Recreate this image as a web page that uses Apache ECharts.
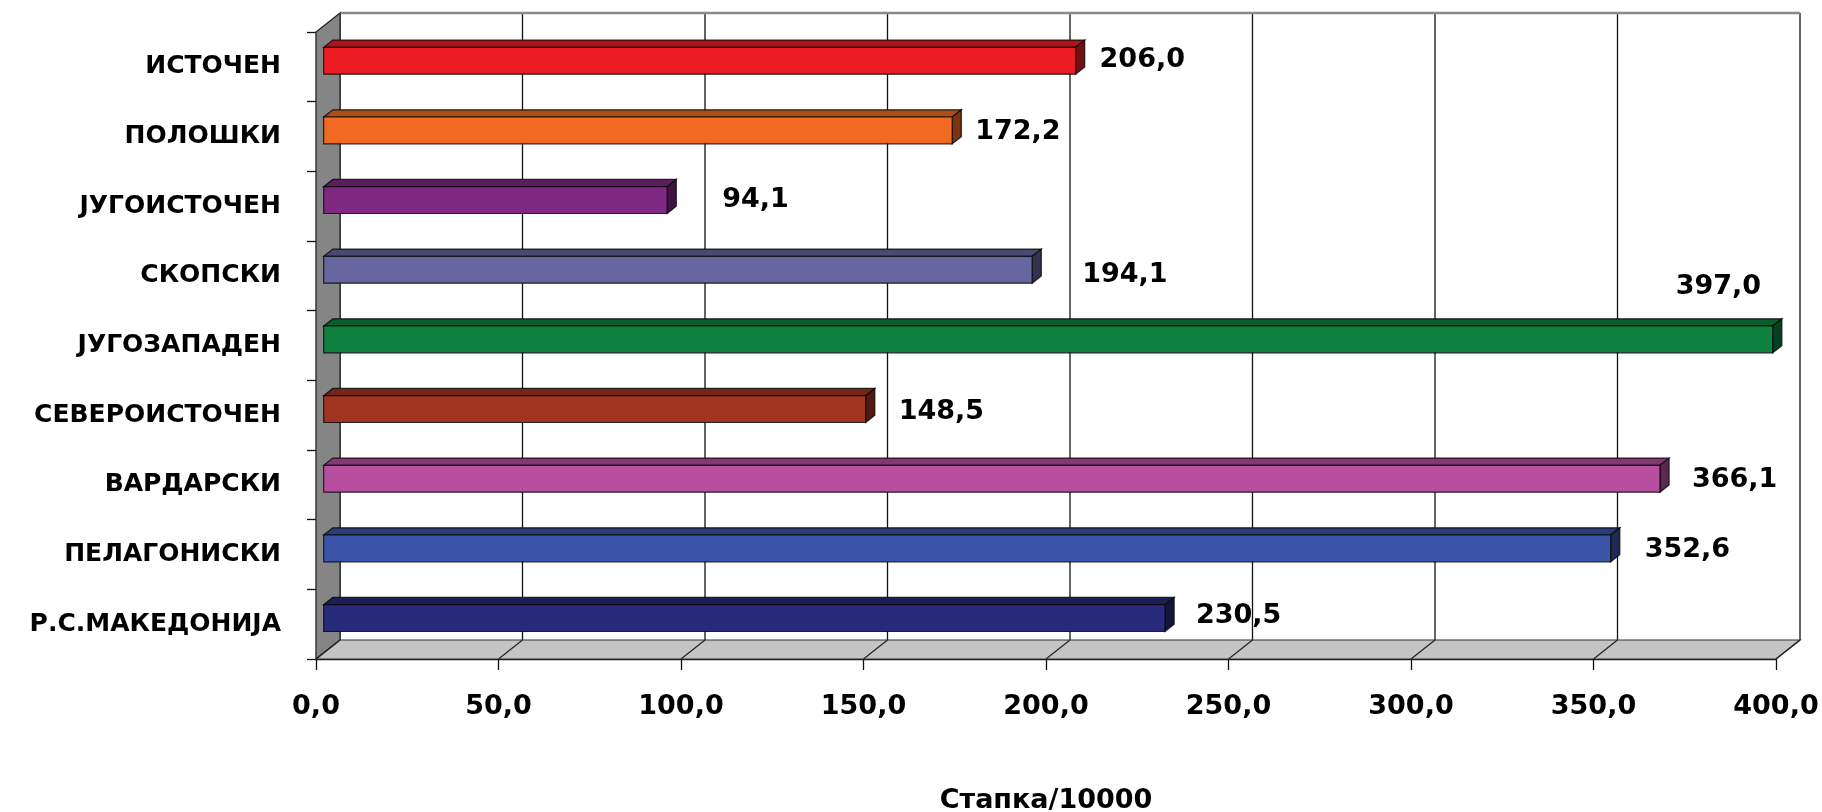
<!DOCTYPE html>
<html>
<head>
<meta charset="utf-8">
<script src="https://cdn.jsdelivr.net/npm/echarts@6/dist/echarts.min.js"></script>
<style>
html,body{margin:0;padding:0;background:#fff;}
#chart{width:1822px;height:812px;}
</style>
</head>
<body>
<div id="chart"></div>
<script>
// ---- data ----
const categories = ['ИСТОЧЕН','ПОЛОШКИ','ЈУГОИСТОЧЕН','СКОПСКИ','ЈУГОЗАПАДЕН','СЕВЕРОИСТОЧЕН','ВАРДАРСКИ','ПЕЛАГОНИСКИ','Р.С.МАКЕДОНИЈА'];
const values = [206.0, 172.2, 94.1, 194.1, 397.0, 148.5, 366.1, 352.6, 230.5];
const xTicks = [0, 50, 100, 150, 200, 250, 300, 350, 400];
const axisTitle = 'Стапка/10000';

// ---- styles ----
const barColors = ['#ED1C24','#F26A21','#7E2882','#6666A0','#0F8140','#A0341F','#B84E9F','#3A55A8','#27297A'];
const labelGap = [24, 23, 55, 50, -97, 33, 32, 34, 31];
const labelRise = [-1, 2, 0, 5, -52, 3, 1, 2, -2];
const FONT = 'DejaVu Sans';
const DEPTH = [24, -19];
const FRONT = 0.32, BACK = 0.70;

function fmt(v){ return v.toFixed(1).replace('.', ','); }
function shade(hex, k){
  const n = parseInt(hex.slice(1), 16);
  const r = Math.round(((n >> 16) & 255) * k), g = Math.round(((n >> 8) & 255) * k), b = Math.round((n & 255) * k);
  return 'rgb(' + r + ',' + g + ',' + b + ')';
}

const chart = echarts.init(document.getElementById('chart'), null, {renderer: 'canvas'});

function renderWalls(params, api){
  const cs = params.coordSys;
  const x0 = cs.x, y0 = cs.y, x1 = cs.x + cs.width, y1 = cs.y + cs.height;
  const dx = DEPTH[0], dy = DEPTH[1];
  const ch = [];
  ch.push({type:'rect', shape:{x:x0+dx, y:y0+dy, width:cs.width, height:cs.height}, style:{fill:'#ffffff', stroke:null}});
  xTicks.forEach(function(t){
    const px = api.coord([t, 0])[0] + dx;
    ch.push({type:'line', shape:{x1:px, y1:y0+dy, x2:px, y2:y1+dy}, style:{stroke:'#111', lineWidth:1.3}});
  });
  ch.push({type:'line', shape:{x1:x0+dx, y1:y0+dy, x2:x1+dx, y2:y0+dy}, style:{stroke:'#8a8a8a', lineWidth:2.5}});
  ch.push({type:'polygon', shape:{points:[[x0,y0],[x0+dx,y0+dy],[x0+dx,y1+dy],[x0,y1]]}, style:{fill:'#858585', stroke:'#222', lineWidth:1.2}});
  ch.push({type:'polygon', shape:{points:[[x0,y1],[x0+dx,y1+dy],[x1+dx,y1+dy],[x1,y1]]}, style:{fill:'#C4C4C4', stroke:'#333', lineWidth:1.2}});
  xTicks.forEach(function(t){
    const px = api.coord([t, 0])[0];
    ch.push({type:'line', shape:{x1:px, y1:y1, x2:px+dx, y2:y1+dy}, style:{stroke:'#222', lineWidth:1.2}});
  });
  return {type:'group', children: ch};
}

function renderBar(params, api){
  const i = api.value(1);
  const v = api.value(0);
  const s = api.coord([0, i]);
  const e = api.coord([v, i]);
  const band = api.size([0, 1])[1];
  const h = band * 0.385;
  const fx = DEPTH[0]*FRONT, fy = DEPTH[1]*FRONT;
  const ddx = DEPTH[0]*(BACK-FRONT), ddy = DEPTH[1]*(BACK-FRONT);
  const xa = s[0] + fx, xb = e[0] + fx;
  const yt = e[1] + fy - h/2, yb = yt + h;
  const c = barColors[i];
  const edge = {stroke:'rgba(10,10,10,0.85)', lineWidth:1.2};
  const ch = [
    {type:'polygon', shape:{points:[[xa,yt],[xb,yt],[xb+ddx,yt+ddy],[xa+ddx,yt+ddy]]}, style:Object.assign({fill:shade(c,0.72)}, edge)},
    {type:'polygon', shape:{points:[[xb,yt],[xb+ddx,yt+ddy],[xb+ddx,yb+ddy],[xb,yb]]}, style:Object.assign({fill:shade(c,0.5)}, edge)},
    {type:'rect', shape:{x:xa, y:yt, width:xb-xa, height:h}, style:Object.assign({fill:c}, edge)},
    {type:'text', x: xb + labelGap[i], y: e[1] + fy + labelRise[i],
      style:{text: fmt(v), fill:'#000', font:'bold 27px "' + FONT + '"', textAlign:'left', textVerticalAlign:'middle'}}
  ];
  return {type:'group', children: ch};
}

const option = {
  backgroundColor: '#ffffff',
  animation: false,
  grid: {left: 316, right: 46, top: 32, bottom: 153, containLabel: false, outerBoundsMode: 'none'},
  xAxis: {
    type: 'value', min: xTicks[0], max: xTicks[xTicks.length-1], interval: xTicks[1]-xTicks[0],
    axisLine: {show: true, onZero: false, lineStyle: {color: '#111', width: 1.3}},
    axisTick: {show: true, length: 11, lineStyle: {color: '#111', width: 1.3}},
    splitLine: {show: false},
    axisLabel: {formatter: fmt, color: '#000', fontFamily: FONT, fontWeight: 'bold', fontSize: 27, margin: 34},
    name: axisTitle, nameLocation: 'middle', nameGap: 128,
    nameTextStyle: {color: '#000', fontFamily: FONT, fontWeight: 'bold', fontSize: 27}
  },
  yAxis: {
    type: 'category', data: categories, inverse: true,
    axisLine: {show: true, lineStyle: {color: '#111', width: 1.3}},
    axisTick: {show: true, length: 9, lineStyle: {color: '#111', width: 1.3}},
    splitLine: {show: false},
    axisLabel: {color: '#000', fontFamily: FONT, fontWeight: 'bold', fontSize: 25, margin: 35, padding: [6, 0, 0, 0]}
  },
  series: [
    {type: 'custom', name: 'walls', coordinateSystem: 'cartesian2d', silent: true, z: 1,
      data: [[0, 0]], renderItem: renderWalls, clip: false},
    {type: 'custom', name: 'bars', coordinateSystem: 'cartesian2d', silent: true, z: 2,
      data: values.map(function(v, i){ return [v, i]; }), encode: {x: 0, y: 1},
      renderItem: renderBar, clip: false}
  ]
};
chart.setOption(option);
</script>
</body>
</html>
